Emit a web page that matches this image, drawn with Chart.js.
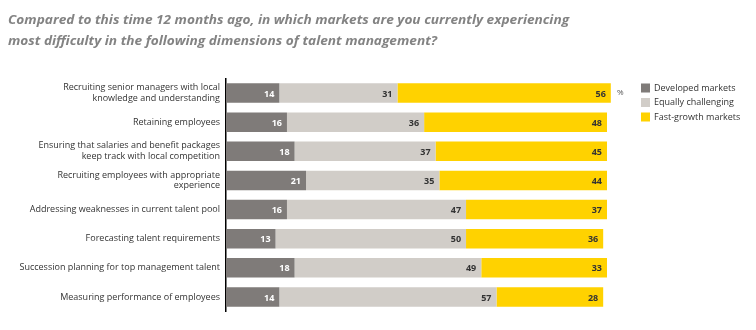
<!DOCTYPE html>
<html><head><meta charset="utf-8">
<script src="https://cdn.jsdelivr.net/npm/chart.js@4/dist/chart.umd.min.js"></script>
<style>html,body{margin:0;padding:0;background:#fff}#wrap{width:756px;height:330px}</style>
</head><body><div id="wrap"><canvas id="c" width="756" height="330"></canvas></div>
<script>
const categories = [
  ["Recruiting senior managers with local","knowledge and understanding"],
  "Retaining employees",
  ["Ensuring that salaries and benefit packages","keep track with local competition"],
  ["Recruiting employees with appropriate","experience"],
  "Addressing weaknesses in current talent pool",
  "Forecasting talent requirements",
  "Succession planning for top management talent",
  "Measuring performance of employees"
];
const developed = [14,16,18,21,16,13,18,14];
const equally   = [31,36,37,35,47,50,49,57];
const fastGrowth= [56,48,45,44,37,36,33,28];
const seriesNames = ["Developed markets","Equally challenging","Fast-growth markets"];
const titleLines = ["Compared to this time 12 months ago, in which markets are you currently experiencing","most difficulty in the following dimensions of talent management?"];

const colors = ["#7f7b79","#d1cdc8","#ffd200"];
const labelColors = ["#ffffff","#333333","#333333"];
const FONT = "'Open Sans', sans-serif";

const valueLabels = {
  id:'valueLabels',
  afterDatasetsDraw(chart){
    const ctx = chart.ctx;
    ctx.save();
    ctx.font = "bold 9px " + FONT;
    ctx.textAlign = 'right';
    ctx.textBaseline = 'middle';
    chart.data.datasets.forEach((ds,di)=>{
      const meta = chart.getDatasetMeta(di);
      meta.data.forEach((bar,i)=>{
        ctx.fillStyle = labelColors[di];
        ctx.fillText(String(ds.data[i]), bar.x - 5, bar.y + 1);
      });
    });
    const first = chart.getDatasetMeta(2).data[0];
    ctx.font = "8px " + FONT;
    ctx.fillStyle = '#555';
    ctx.textAlign = 'left';
    ctx.fillText('%', chart.chartArea.right + 10, first.y);
    ctx.font = "9px " + FONT;
    seriesNames.forEach((n,k)=>{
      const y = 88 + k*14.5;
      ctx.fillStyle = colors[k];
      ctx.fillRect(641, y-4.5, 9, 9);
      ctx.fillStyle = '#333';
      ctx.fillText(n, 654, y);
    });
    // title: width matched so line 2 spans ~429px like the original
    ctx.font = "italic bold 13px " + FONT;
    const w = ctx.measureText(titleLines[1]).width;
    const sx = 429 / w;
    ctx.fillStyle = '#838383';
    ctx.translate(8, 0);
    ctx.scale(sx, 1);
    titleLines.forEach((t,k)=>{ ctx.fillText(t, 0, 20 + k*21); });
    ctx.restore();
  }
};

new Chart(document.getElementById('c'), {
  type:'bar',
  data:{
    labels:categories,
    datasets:[
      {label:seriesNames[0], data:developed, backgroundColor:colors[0]},
      {label:seriesNames[1], data:equally, backgroundColor:colors[1]},
      {label:seriesNames[2], data:fastGrowth, backgroundColor:colors[2]}
    ]
  },
  options:{
    indexAxis:'y',
    responsive:false,
    animation:false,
    devicePixelRatio:1,
    layout:{padding:{left:0,right:149,top:78.5,bottom:18.5}},
    datasets:{bar:{categoryPercentage:1, barPercentage:0.67, borderWidth:0, clip:false}},
    scales:{
      x:{stacked:true, min:0, max:100, display:false},
      y:{stacked:true,
         grid:{display:false, drawTicks:false},
         border:{display:true, color:'#000', width:1.5},
         ticks:{color:'#333', font:{family:FONT, size:9}, padding:6, autoSkip:false},
         afterFit(s){ s.width = 226; }
      }
    },
    plugins:{legend:{display:false}, title:{display:false}, tooltip:{enabled:false}}
  },
  plugins:[valueLabels]
});
</script></body></html>
